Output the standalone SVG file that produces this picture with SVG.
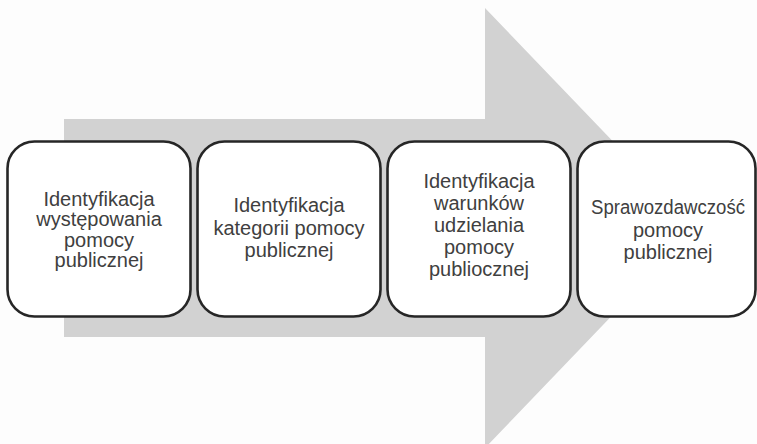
<svg xmlns="http://www.w3.org/2000/svg" width="757" height="444" viewBox="0 0 757 444">
<style>
.bg{fill:#fdfdfd}
.arrow{fill:#d2d2d2}
.box{fill:#ffffff;stroke:#262626;stroke-width:2.6}
.lbl{font-family:"Liberation Sans",Arial,sans-serif;font-size:20px;fill:#404040;text-anchor:middle}
</style>
<rect class="bg" x="0" y="0" width="757" height="444"/>
<g id="connectors">
<path class="arrow" d="M64,119 L485,119 L485,8 L696,228 L485,448 L485,337 L64,337 Z"/>
</g>
<g id="node1">
<rect class="box" x="7.5" y="141.5" width="183" height="175" rx="27" ry="27"/>
<text class="lbl"><tspan x="99" y="205.5">Identyfikacja</tspan><tspan x="99" y="226">występowania</tspan><tspan x="99" y="246.5">pomocy</tspan><tspan x="99" y="267">publicznej</tspan></text>
</g>
<g id="node2">
<rect class="box" x="197.5" y="141.5" width="183" height="175" rx="27" ry="27"/>
<text class="lbl"><tspan x="289" y="212">Identyfikacja</tspan><tspan x="289" y="234.5">kategorii pomocy</tspan><tspan x="289" y="256.5">publicznej</tspan></text>
</g>
<g id="node3">
<rect class="box" x="387.5" y="141.5" width="183" height="175" rx="27" ry="27"/>
<text class="lbl"><tspan x="479" y="187.5">Identyfikacja</tspan><tspan x="479" y="209.7">warunków</tspan><tspan x="479" y="232">udzielania</tspan><tspan x="479" y="254">pomocy</tspan><tspan x="479" y="276">publiocznej</tspan></text>
</g>
<g id="node4">
<rect class="box" x="577.5" y="141.5" width="178" height="175" rx="27" ry="27"/>
<text class="lbl" x="668" y="214" textLength="154" lengthAdjust="spacingAndGlyphs">Sprawozdawczość</text>
<text class="lbl"><tspan x="668" y="236.5">pomocy</tspan><tspan x="668" y="259">publicznej</tspan></text>
</g>
</svg>
